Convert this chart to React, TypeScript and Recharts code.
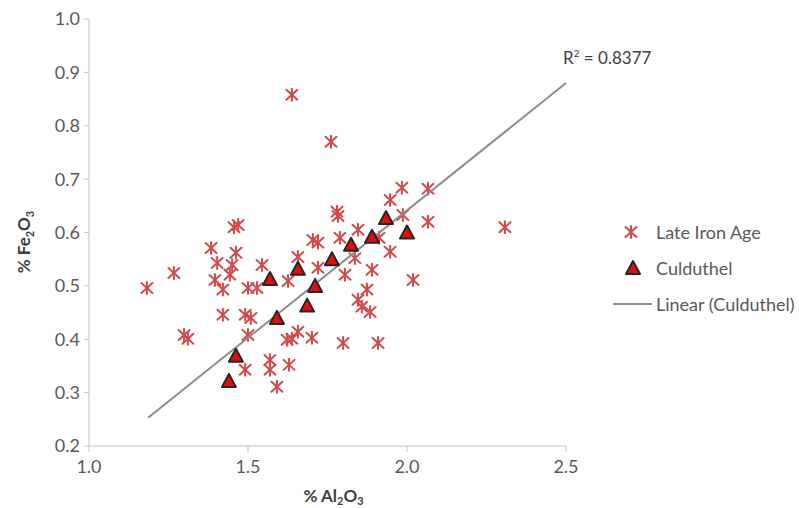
import React from "react"
import { ScatterChart, Scatter, XAxis, YAxis, Label } from "recharts"

// Late Iron Age samples (% Al2O3, % Fe2O3)
const ironAgeAl = [
  1.182, 1.267, 1.299, 1.311, 1.384, 1.403, 1.396, 1.421, 1.421, 1.456,
  1.469, 1.462, 1.45, 1.443, 1.5, 1.528, 1.544, 1.491, 1.509, 1.5,
  1.491, 1.569, 1.569, 1.591, 1.629, 1.623, 1.657, 1.638, 1.701, 1.799,
  1.909, 1.626, 1.657, 1.72, 1.704, 1.72, 1.789, 1.78, 1.783, 1.846,
  1.836, 1.805, 1.874, 1.846, 1.858, 1.884, 1.89, 1.912, 1.947, 1.947,
  1.987, 1.984, 2.066, 2.066, 2.019, 2.308, 1.638, 1.761,
]
const ironAgeFe = [
  0.496, 0.524, 0.408, 0.401, 0.571, 0.543, 0.511, 0.493, 0.446, 0.61,
  0.614, 0.562, 0.539, 0.521, 0.496, 0.496, 0.539, 0.446, 0.44, 0.408,
  0.343, 0.361, 0.343, 0.311, 0.352, 0.399, 0.414, 0.401, 0.403, 0.393,
  0.393, 0.509, 0.554, 0.534, 0.586, 0.581, 0.59, 0.639, 0.631, 0.605,
  0.552, 0.521, 0.493, 0.474, 0.461, 0.451, 0.53, 0.59, 0.564, 0.661,
  0.633, 0.684, 0.682, 0.62, 0.511, 0.61, 0.858, 0.77,
]

// Culduthel samples
const culduthelAl = [1.44, 1.462, 1.569, 1.591, 1.657, 1.686, 1.711, 1.764, 1.824, 1.89, 1.934, 2.0]
const culduthelFe = [0.322, 0.369, 0.513, 0.44, 0.532, 0.463, 0.5, 0.55, 0.577, 0.592, 0.627, 0.6]

// linear trendline (Culduthel), forecast ends
const trendAl = [1.186, 2.5]
const trendFe = [0.253, 0.88]
const rSquared = "0.8377"

const xTicks = [1.0, 1.5, 2.0, 2.5]
const yTicks = [0.2, 0.3, 0.4, 0.5, 0.6, 0.7, 0.8, 0.9, 1.0]

const ironAge = ironAgeAl.map((x, i) => ({ x, y: ironAgeFe[i] }))
const culduthel = culduthelAl.map((x, i) => ({ x, y: culduthelFe[i] }))
const trend = trendAl.map((x, i) => ({ x, y: trendFe[i] }))

const FONT = "Lato, 'Open Sans', sans-serif"
const TEXT = "#595959"
const STAR = "#d24b4b"

const Star = ({ cx, cy }: any) => (
  <g stroke={STAR} strokeWidth={2} strokeLinecap="round">
    <line x1={cx} y1={cy - 6} x2={cx} y2={cy + 6} />
    <line x1={cx - 5.5} y1={cy - 5} x2={cx + 5.5} y2={cy + 5} />
    <line x1={cx - 5.5} y1={cy + 5} x2={cx + 5.5} y2={cy - 5} />
  </g>
)

const Tri = ({ cx, cy }: any) => (
  <polygon
    points={`${cx},${cy - 7} ${cx - 7},${cy + 6} ${cx + 7},${cy + 6}`}
    fill="#e30d0d"
    stroke="#262626"
    strokeWidth={2}
    strokeLinejoin="round"
  />
)

const NoDot = () => <g />

const fmt = (v: number) => v.toFixed(1)

const XTitle = ({ viewBox }: any) => (
  <text x={viewBox.x + viewBox.width / 2 + 6} y={502} textAnchor="middle" fill="#404040"
    fontFamily={FONT} fontSize={17} fontWeight="bold">
    % Al<tspan dy={3} fontSize={11}>2</tspan><tspan dy={-3}>O</tspan><tspan dy={3} fontSize={11}>3</tspan>
  </text>
)

const YTitle = () => (
  <text x={0} y={0} transform="translate(30,242) rotate(-90)" textAnchor="middle" fill="#404040"
    fontFamily={FONT} fontSize={17} fontWeight="bold">
    % Fe<tspan dy={4} fontSize={11}>2</tspan><tspan dy={-4}>O</tspan><tspan dy={4} fontSize={11}>3</tspan>
  </text>
)

const legendRows = [
  { name: "Late Iron Age", icon: <svg width={42} height={36}><Star cx={21} cy={18} /></svg> },
  { name: "Culduthel", icon: <svg width={42} height={36}><Tri cx={23} cy={18} /></svg> },
  {
    name: "Linear (Culduthel)",
    icon: (
      <svg width={42} height={36}>
        <line x1={3} y1={18} x2={42} y2={18} stroke="#8c8c8c" strokeWidth={2} />
      </svg>
    ),
  },
]

const tickStyle = { fill: TEXT, fontSize: 18, fontFamily: FONT }

export default function App() {
  return (
    <div style={{ position: "absolute", left: 0, top: 0, width: 799, height: 508, overflow: "hidden", background: "#fff" }}>
      <ScatterChart width={799} height={508} margin={{ top: 19, right: 233, bottom: 22, left: 29 }}>
        <XAxis
          type="number"
          dataKey="x"
          domain={[1, 2.5]}
          ticks={xTicks}
          tickFormatter={fmt}
          height={40}
          stroke="#c4c4c4"
          tickSize={6}
          tickMargin={8}
          tick={tickStyle}
          label={<Label content={<XTitle />} />}
        />
        <YAxis
          type="number"
          dataKey="y"
          domain={[0.2, 1.0]}
          ticks={yTicks}
          tickFormatter={fmt}
          width={60}
          stroke="#c4c4c4"
          tickSize={5}
          tickMargin={4}
          tick={tickStyle}
          label={<Label content={<YTitle />} />}
        />
        <Scatter name="Late Iron Age" data={ironAge} shape={<Star />} isAnimationActive={false} />
        <Scatter
          name="Linear (Culduthel)"
          data={trend}
          line={{ stroke: "#8c8c8c", strokeWidth: 2 }}
          shape={<NoDot />}
          isAnimationActive={false}
        />
        <Scatter name="Culduthel" data={culduthel} shape={<Tri />} isAnimationActive={false} />
      </ScatterChart>
      <div style={{ position: "absolute", left: 610, top: 214, fontFamily: FONT, fontSize: 18, color: TEXT }}>
        {legendRows.map((r) => (
          <div key={r.name} style={{ display: "flex", alignItems: "center", height: 36, whiteSpace: "nowrap" }}>
            {r.icon}
            <span style={{ marginLeft: 4 }}>{r.name}</span>
          </div>
        ))}
      </div>
      <div style={{ position: "absolute", left: 563, top: 47, fontFamily: FONT, fontSize: 17, color: "#404040", whiteSpace: "nowrap" }}>
        R<sup style={{ fontSize: 10 }}>2</sup> = {rSquared}
      </div>
    </div>
  )
}
